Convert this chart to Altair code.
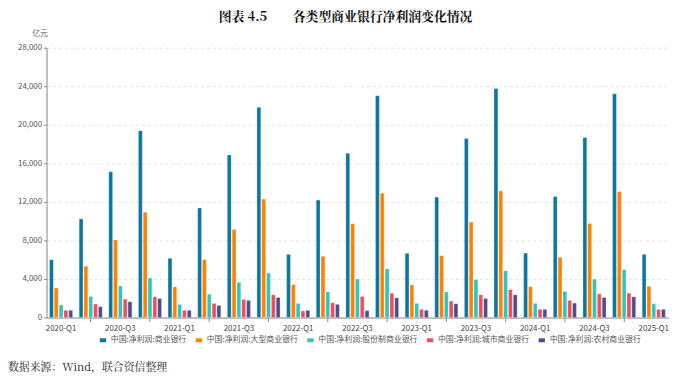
import altair as alt
import pandas as pd

quarters = [
    "2020-Q1", "2020-Q2", "2020-Q3", "2020-Q4",
    "2021-Q1", "2021-Q2", "2021-Q3", "2021-Q4",
    "2022-Q1", "2022-Q2", "2022-Q3", "2022-Q4",
    "2023-Q1", "2023-Q2", "2023-Q3", "2023-Q4",
    "2024-Q1", "2024-Q2", "2024-Q3", "2024-Q4",
    "2025-Q1",
]

series_names = [
    "中国:净利润:商业银行",
    "中国:净利润:大型商业银行",
    "中国:净利润:股份制商业银行",
    "中国:净利润:城市商业银行",
    "中国:净利润:农村商业银行",
]

all_banks = [6000, 10240, 15120, 19390, 6150, 11370, 16870, 21820, 6560, 12190, 17040,
             23010, 6660, 12500, 18570, 23760, 6690, 12560, 18680, 23220, 6560]
large_banks = [3070, 5330, 8060, 10930, 3180, 6010, 9150, 12290, 3410, 6350, 9730,
               12900, 3380, 6420, 9900, 13140, 3210, 6250, 9760, 13080, 3240]
joint_stock = [1300, 2190, 3280, 4100, 1370, 2420, 3650, 4610, 1470, 2660, 3990,
               5050, 1470, 2660, 3930, 4850, 1470, 2700, 3990, 4980, 1430]
city_banks = [750, 1400, 1910, 2150, 750, 1470, 1880, 2360, 680, 1540, 2190,
              2530, 850, 1710, 2360, 2900, 850, 1780, 2460, 2530, 850]
rural_banks = [750, 1130, 1640, 1980, 750, 1260, 1780, 2080, 750, 1370, 720,
               2050, 750, 1430, 1980, 2360, 850, 1500, 2080, 2150, 850]

colors = ["#0b76a0", "#ff8000", "#2fc4bd", "#f24c5c", "#474f8e"]

series_values = [all_banks, large_banks, joint_stock, city_banks, rural_banks]
rows = []
for name, vals in zip(series_names, series_values):
    for q, v in zip(quarters, vals):
        rows.append({"quarter": q, "series": name, "value": v})
df = pd.DataFrame(rows)

W, H = 629, 273
cjk = "Noto Sans CJK SC"
serif = "Noto Serif CJK SC, Noto Sans CJK SC"

legend_path = "M-0.8,-0.5 L0.8,-0.5 L0.8,0.5 L-0.8,0.5 Z"

bars = alt.Chart(df).mark_bar(stroke="#ffffff", strokeWidth=0.4, strokeOpacity=0.7).encode(
    x=alt.X(
        "quarter:N",
        sort=quarters,
        scale=alt.Scale(paddingInner=0.22, paddingOuter=0.1),
        axis=alt.Axis(
            title=None,
            labelAngle=0,
            labelFontSize=8,
            labelColor="#444444",
            labelFont=cjk,
            labelPadding=3,
            labelExpr="(indexof(datum.value,'Q1')>=0 || indexof(datum.value,'Q3')>=0) ? datum.value : ''",
            tickSize=4,
            tickColor="#888888",
            tickOpacity=alt.condition(
                "indexof(datum.value,'Q2')>=0 || indexof(datum.value,'Q4')>=0",
                alt.value(1),
                alt.value(0),
            ),
            domainColor="#888888",
            grid=False,
        ),
    ),
    xOffset=alt.XOffset("series:N", sort=series_names, scale=alt.Scale(paddingInner=0.2)),
    y=alt.Y(
        "value:Q",
        scale=alt.Scale(domain=[0, 28000], nice=False),
        axis=alt.Axis(
            title="亿元",
            titleAngle=0,
            titleFont=cjk,
            titleFontSize=8,
            titleFontWeight="normal",
            titleColor="#666666",
            titleX=-7,
            titleY=-10,
            titleAlign="center",
            values=list(range(0, 28001, 4000)),
            format=",.0f",
            labelFontSize=8,
            labelColor="#555555",
            labelFont=cjk,
            tickSize=3,
            tickColor="#888888",
            domainColor="#888888",
            grid=True,
            gridColor="#e3e3e3",
            gridDash=[3, 3],
        ),
    ),
    color=alt.Color(
        "series:N",
        sort=series_names,
        scale=alt.Scale(domain=series_names, range=colors),
        legend=alt.Legend(
            title=None,
            orient="none",
            direction="horizontal",
            legendX=53,
            legendY=292,
            symbolType=legend_path,
            symbolSize=64,
            symbolStrokeWidth=0,
            labelFontSize=8,
            labelColor="#555555",
            labelFont=cjk,
            labelOffset=4,
            columnPadding=8,
            labelLimit=200,
        ),
    ),
)

src_df = pd.DataFrame({"t": ["数据来源：Wind，联合资信整理"]})
source = alt.Chart(src_df).mark_text(
    font=serif, fontSize=11, color="#222222", align="left", baseline="middle"
).encode(text="t:N", x=alt.value(-39), y=alt.value(324))

chart = alt.layer(bars, source).properties(
    width=W,
    height=H,
    autosize=alt.AutoSizeParams(type="none"),
    padding={"left": 39, "top": 38, "right": 24, "bottom": 60},
    background="#ffffff",
    title=alt.Title(
        "图表 4.5\u3000\u3000各类型商业银行净利润变化情况",
        font=serif,
        fontSize=13,
        fontWeight="bold",
        color="#111111",
        anchor="middle",
        offset=6,
        dx=-12,
    ),
).configure_view(stroke=None)

chart.save("out.html", embed_options={"renderer": "svg", "actions": False})
